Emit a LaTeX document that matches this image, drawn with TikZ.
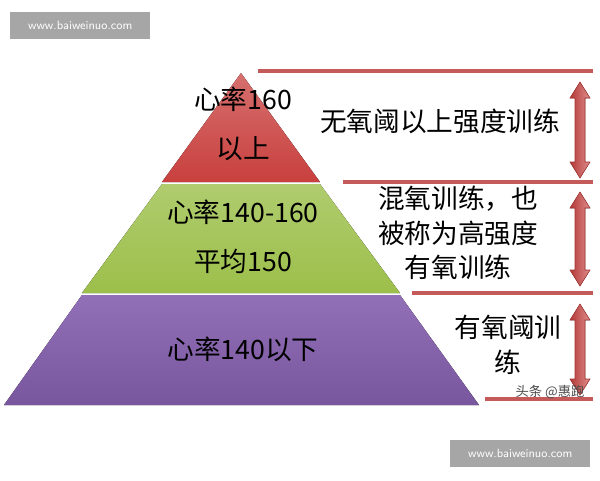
\documentclass[tikz,border=0pt]{standalone}
\usepackage{fontspec}
\setmainfont{Noto Sans CJK SC}
\usetikzlibrary{calc}
\definecolor{rd}{HTML}{C8403E}
\definecolor{gr}{HTML}{9CBF4A}
\definecolor{pu}{HTML}{8660B0}
\definecolor{ln}{HTML}{C55A5A}
\tikzset{
 lbl/.style={font=\fontsize{20}{26}\selectfont, align=center, text=black},
 plbl/.style={font=\fontsize{20}{37}\selectfont, align=center, text=black},
 hline/.style={draw=ln, line width=3pt},
 wm/.style={fill=gray!70, text=white, font=\fontsize{9}{10}\selectfont\sffamily, minimum width=105pt, minimum height=20pt, inner sep=0pt}
}
\newcommand{\dblarrow}[3]{% x, ytop, ybot (pixel coords, y down)
 \fill[left color=rd!90!black, right color=rd!60!white, draw=rd!80!black]
 (#1,#2) -- ++(-10,16) -- ++(5,0) -- (#1-5,#3-16) -- ++(-5,0) -- (#1,#3) -- ++(10,-16) -- ++(-5,0) -- (#1+5,#2+16) -- ++(5,0) -- cycle;}
\begin{document}
\begin{tikzpicture}[x=0.75pt,y=-0.75pt]
\useasboundingbox (0,0) rectangle (600,480);
\coordinate (apex) at (241,73);
\fill[top color=rd!75!white, bottom color=rd] (apex) -- (320,182) -- (162,182) -- cycle;
\fill[top color=gr!80!white, bottom color=gr] (162,184) -- (320,184) -- (400,293) -- (82,293) -- cycle;
\fill[top color=pu!90!white, bottom color=pu!90!black] (82,295) -- (400,295) -- (479,405) -- (4,405) -- cycle;
\node[plbl] (t1) at (243,124) {心率160\\以上};
\node[plbl] (t2) at (243,237) {心率140-160\\平均150};
\node[plbl] (t3) at (243,349) {心率140以下};
\coordinate (l1a) at (258,71); \coordinate (l1b) at (593,71);
\coordinate (l2a) at (343,182); \coordinate (l2b) at (593,182);
\coordinate (l3a) at (412,293); \coordinate (l3b) at (593,293);
\coordinate (l4a) at (485,399); \coordinate (l4b) at (593,399);
\draw[hline] (l1a) -- (l1b);
\draw[hline] (l2a) -- (l2b);
\draw[hline] (l3a) -- (l3b);
\draw[hline] (l4a) -- (l4b);
\dblarrow{580}{82}{178}
\dblarrow{580}{192}{286}
\dblarrow{580}{304}{395}
\node[lbl] (r1) at (440,121) {无氧阈以上强度训练};
\node[lbl] (r2) at (458,233) {混氧训练，也\\被称为高强度\\有氧训练};
\node[lbl] (r3) at (508,345) {有氧阈训\\练};
\node[font=\fontsize{10}{11}\selectfont, text=gray!60!black] (w3) at (550,392) {头条 @惠跑};
\node[wm, anchor=north west] (w1) at (10,12) {www.baiweinuo.com};
\node[wm, anchor=north west] (w2) at (450,440) {www.baiweinuo.com};
\end{tikzpicture}
\end{document}
